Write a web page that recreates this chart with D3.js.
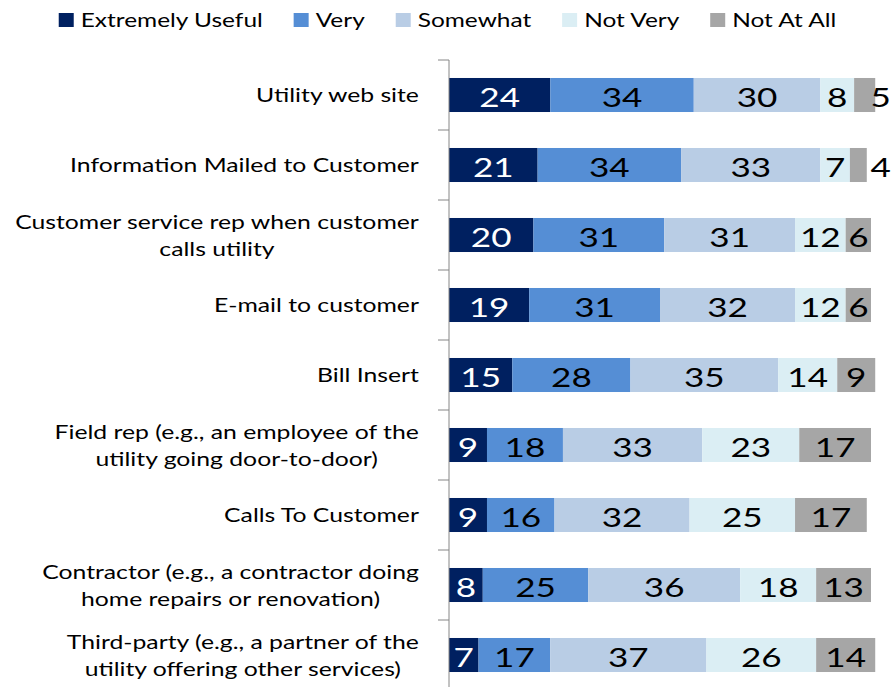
<!DOCTYPE html>
<html>
<head>
<meta charset="utf-8">
<script src="https://cdn.jsdelivr.net/npm/d3@7/dist/d3.min.js"></script>
<style>
  html, body { margin: 0; padding: 0; background: #fff; }
  svg { display: block; }
  text { font-family: Lato, "Open Sans", sans-serif; }
</style>
</head>
<body>
<svg id="chart" width="893" height="687"></svg>
<script>
// Usefulness ratings per communication channel (percent of respondents)
const categories = [
  ["Utility web site"],
  ["Information Mailed to Customer"],
  ["Customer service rep when customer", "calls utility"],
  ["E-mail to customer"],
  ["Bill Insert"],
  ["Field rep (e.g., an employee of the", "utility going door-to-door)"],
  ["Calls To Customer"],
  ["Contractor (e.g., a contractor doing", "home repairs or renovation)"],
  ["Third-party (e.g., a partner of the", "utility offering other services)"]
];
const seriesNames = ["Extremely Useful", "Very", "Somewhat", "Not Very", "Not At All"];
const extremelyUseful = [24, 21, 20, 19, 15, 9, 9, 8, 7];
const very            = [34, 34, 31, 31, 28, 18, 16, 25, 17];
const somewhat        = [30, 33, 31, 32, 35, 33, 32, 36, 37];
const notVery         = [8, 7, 12, 12, 14, 23, 25, 18, 26];
const notAtAll        = [5, 4, 6, 6, 9, 17, 17, 13, 14];
const colors = ["#002060", "#558ED5", "#B9CDE5", "#DBEEF4", "#A6A6A6"];

const seriesValues = [extremelyUseful, very, somewhat, notVery, notAtAll];
const rows = categories.map((c, i) => {
  const r = { key: i, label: c };
  seriesNames.forEach((s, j) => { r[s] = seriesValues[j][i]; });
  return r;
});

const svg = d3.select("#chart");
const W = 893, H = 687;
const SX = 1.3;        // horizontal stretch for value and legend text
const LABEL_SX = 1.27; // horizontal stretch for category labels

const x = d3.scaleLinear().domain([0, 105]).range([449, 449 + 105 * 4.22]);
const y = d3.scaleBand().domain(rows.map(r => r.key)).range([60, 690])
  .paddingInner(0.514).paddingOuter(0.257);

const stack = d3.stack().keys(seriesNames);
const stacked = stack(rows);

// bars
const layers = svg.append("g").selectAll("g").data(stacked).join("g")
  .attr("fill", (d, i) => colors[i]);
layers.selectAll("rect").data(d => d).join("rect")
  .attr("x", d => x(d[0]))
  .attr("y", d => y(d.data.key))
  .attr("width", d => x(d[1]) - x(d[0]))
  .attr("height", y.bandwidth());

// value labels
const valueSize = 27;
const valueCap = valueSize * 0.72;
stacked.forEach((layer, si) => {
  svg.append("g").selectAll("text").data(layer).join("text")
    .attr("font-size", valueSize)
    .attr("text-anchor", "middle")
    .attr("fill", si === 0 ? "#fff" : "#000")
    .text(d => d[1] - d[0])
    .attr("transform", d => {
      const v = d[1] - d[0];
      // very narrow end segments get their label just past the bar
      const cx = (si === 4 && v < 6) ? x(102.3) : x((d[0] + d[1]) / 2);
      const cy = y(d.data.key) + y.bandwidth() / 2 + valueCap / 2 + 2;
      return `translate(${cx},${cy}) scale(${SX},1)`;
    });
});

// axis
const axis = d3.axisLeft(y).tickSize(0).tickFormat("");
const axisG = svg.append("g").attr("transform", `translate(${x(0)},0)`).call(axis);
axisG.select(".domain").attr("stroke", "#868686").attr("d", `M0,60V690`);
const tickPos = d3.range(rows.length + 1).map(i => 60 + i * y.step());
axisG.selectAll(".sep").data(tickPos).join("line").attr("class", "sep")
  .attr("x1", -11).attr("x2", 0).attr("y1", d => d).attr("y2", d => d)
  .attr("stroke", "#868686");

// category labels (centred lines, block right-aligned against the axis)
const labelSize = 19.5;
const lineH = 27;
const labelRight = x(0) - 30;
rows.forEach(r => {
  const g = svg.append("g");
  const n = r.label.length;
  const cy = y(r.key) + y.bandwidth() / 2;
  const texts = r.label.map(line => g.append("text")
    .attr("font-size", labelSize)
    .attr("fill", "#000")
    .attr("text-anchor", "middle")
    .text(line));
  const widths = texts.map(t => t.node().getComputedTextLength() * LABEL_SX);
  const maxW = d3.max(widths);
  texts.forEach((t, li) => {
    const base = cy + (li - (n - 1) / 2) * lineH + labelSize * 0.72 / 2;
    t.attr("transform", `translate(${labelRight - maxW / 2},${base}) scale(${LABEL_SX},1)`);
  });
});

// legend
const legendSize = 18.8;
const legend = svg.append("g");
let lx = 0;
seriesNames.forEach((s, i) => {
  const g = legend.append("g");
  g.append("rect").attr("x", 0).attr("y", 13).attr("width", 15).attr("height", 14)
    .attr("fill", colors[i]);
  const t = g.append("text").attr("font-size", legendSize).attr("fill", "#000").text(s);
  const w = t.node().getComputedTextLength() * SX;
  t.attr("transform", `translate(22,26.5) scale(${SX},1)`);
  g.attr("transform", `translate(${lx},0)`);
  lx += 22 + w + 31;
});
const legendW = lx - 31;
legend.attr("transform", `translate(${(W - legendW) / 2 + 1},0)`);
</script>
</body>
</html>
